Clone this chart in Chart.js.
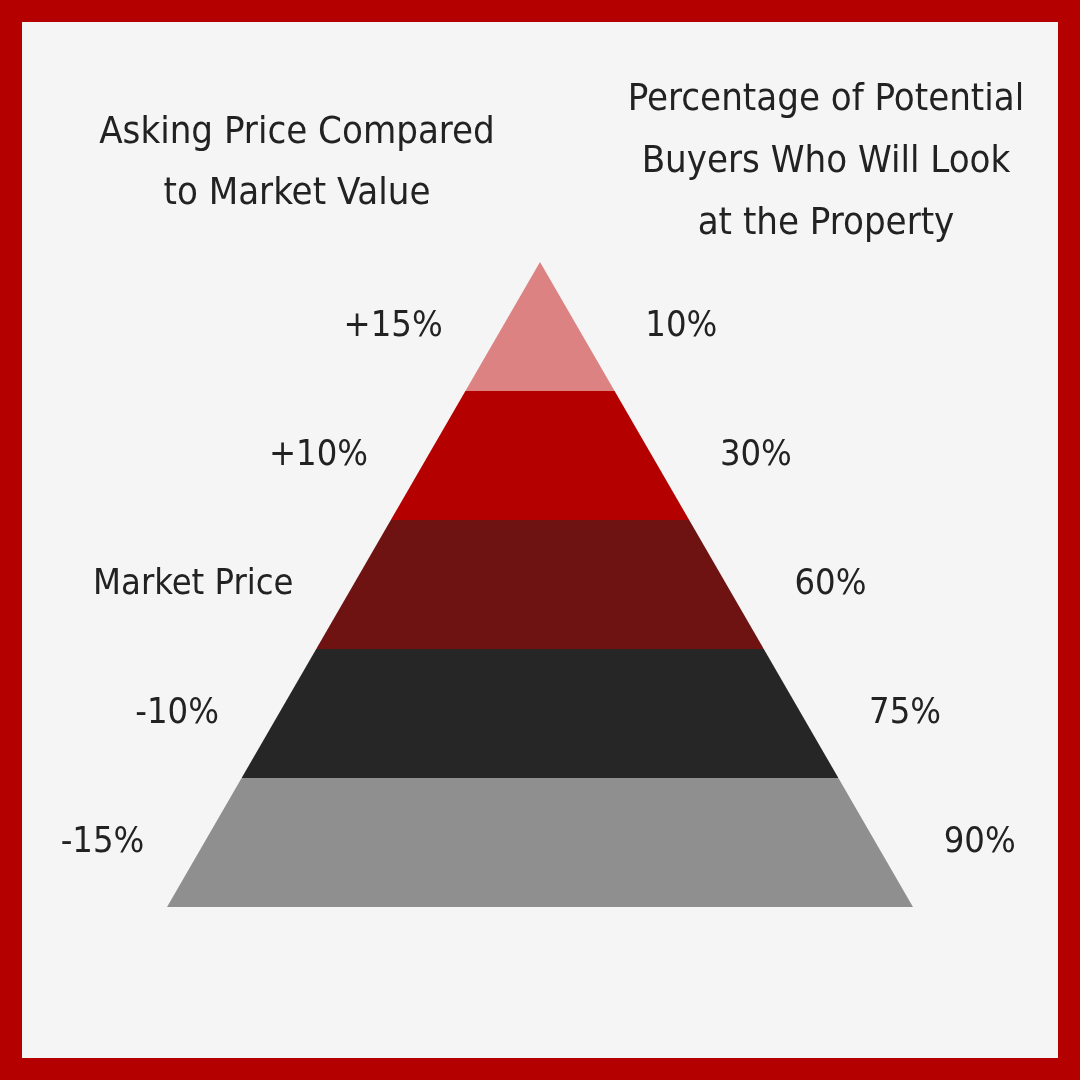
<!DOCTYPE html>
<html><head><meta charset="utf-8">
<script src="https://cdn.jsdelivr.net/npm/chart.js@4/dist/chart.umd.min.js"></script>
<style>
html,body{margin:0;padding:0;background:#b50000;}
#wrap{position:absolute;left:0;top:0;width:1080px;height:1080px;box-sizing:border-box;border:22px solid #b50000;background:#f5f5f5;}
canvas{position:absolute;left:-22px;top:-22px;}
</style></head><body>
<div id="wrap"><canvas id="c" width="1080" height="1080"></canvas></div>
<script>
const askingLabels = ["+15%","+10%","Market Price","-10%","-15%"];
const buyerPercents = ["10%","30%","60%","75%","90%"];
const bandColors = ["#dc8282","#b50000","#6e1212","#262626","#8f8f8f"];
const leftTitle = ["Asking Price Compared","to Market Value"];
const rightTitle = ["Percentage of Potential","Buyers Who Will Look","at the Property"];

const N = askingLabels.length;
const datasets = [];
askingLabels.forEach((lab,i)=>{
  const top = N - i, bot = N - i - 1; // levels
  const hwT = N - top, hwB = N - bot;
  const upper = [{x:-hwB,y:bot},{x:-hwT,y:top},{x:hwT,y:top},{x:hwB,y:bot}];
  const lower = [{x:-hwB,y:bot},{x:hwB,y:bot}];
  const li = datasets.length;
  datasets.push({data:lower,showLine:true,borderWidth:0,pointRadius:0,fill:false});
  datasets.push({data:upper,showLine:true,borderWidth:0,pointRadius:0,backgroundColor:bandColors[i],fill:li});
});
const FONT = "'Liberation Sans Narrow','DejaVu Sans Condensed',sans-serif";
const labelsPlugin = {id:'lbl',afterDraw(chart){
  const ctx=chart.ctx, xs=chart.scales.x, ys=chart.scales.y;
  ctx.save(); ctx.fillStyle='#222'; ctx.textBaseline='middle';
  ctx.font='36px '+FONT;
  askingLabels.forEach((lab,i)=>{
    const mid=N-i-0.5, hw=N-mid;
    const y=ys.getPixelForValue(mid);
    ctx.textAlign='right'; ctx.fillText(lab, xs.getPixelForValue(-hw)-60, y);
    ctx.textAlign='left'; ctx.fillText(buyerPercents[i], xs.getPixelForValue(hw)+68, y);
  });
  ctx.font='38px '+FONT; ctx.textAlign='center';
  leftTitle.forEach((t,k)=>ctx.fillText(t,297,133+k*61));
  rightTitle.forEach((t,k)=>ctx.fillText(t,826,100+k*62));
  ctx.restore();
}};
new Chart(document.getElementById('c'),{type:'scatter',data:{datasets},
 options:{responsive:false,animation:false,layout:{padding:0},
  plugins:{legend:{display:false},tooltip:{enabled:false}},
  scales:{x:{type:'linear',display:false,min:-7.239,max:7.239},
          y:{type:'linear',display:false,min:-1.341,max:7.031}}},
 plugins:[labelsPlugin]});
</script></body></html>
